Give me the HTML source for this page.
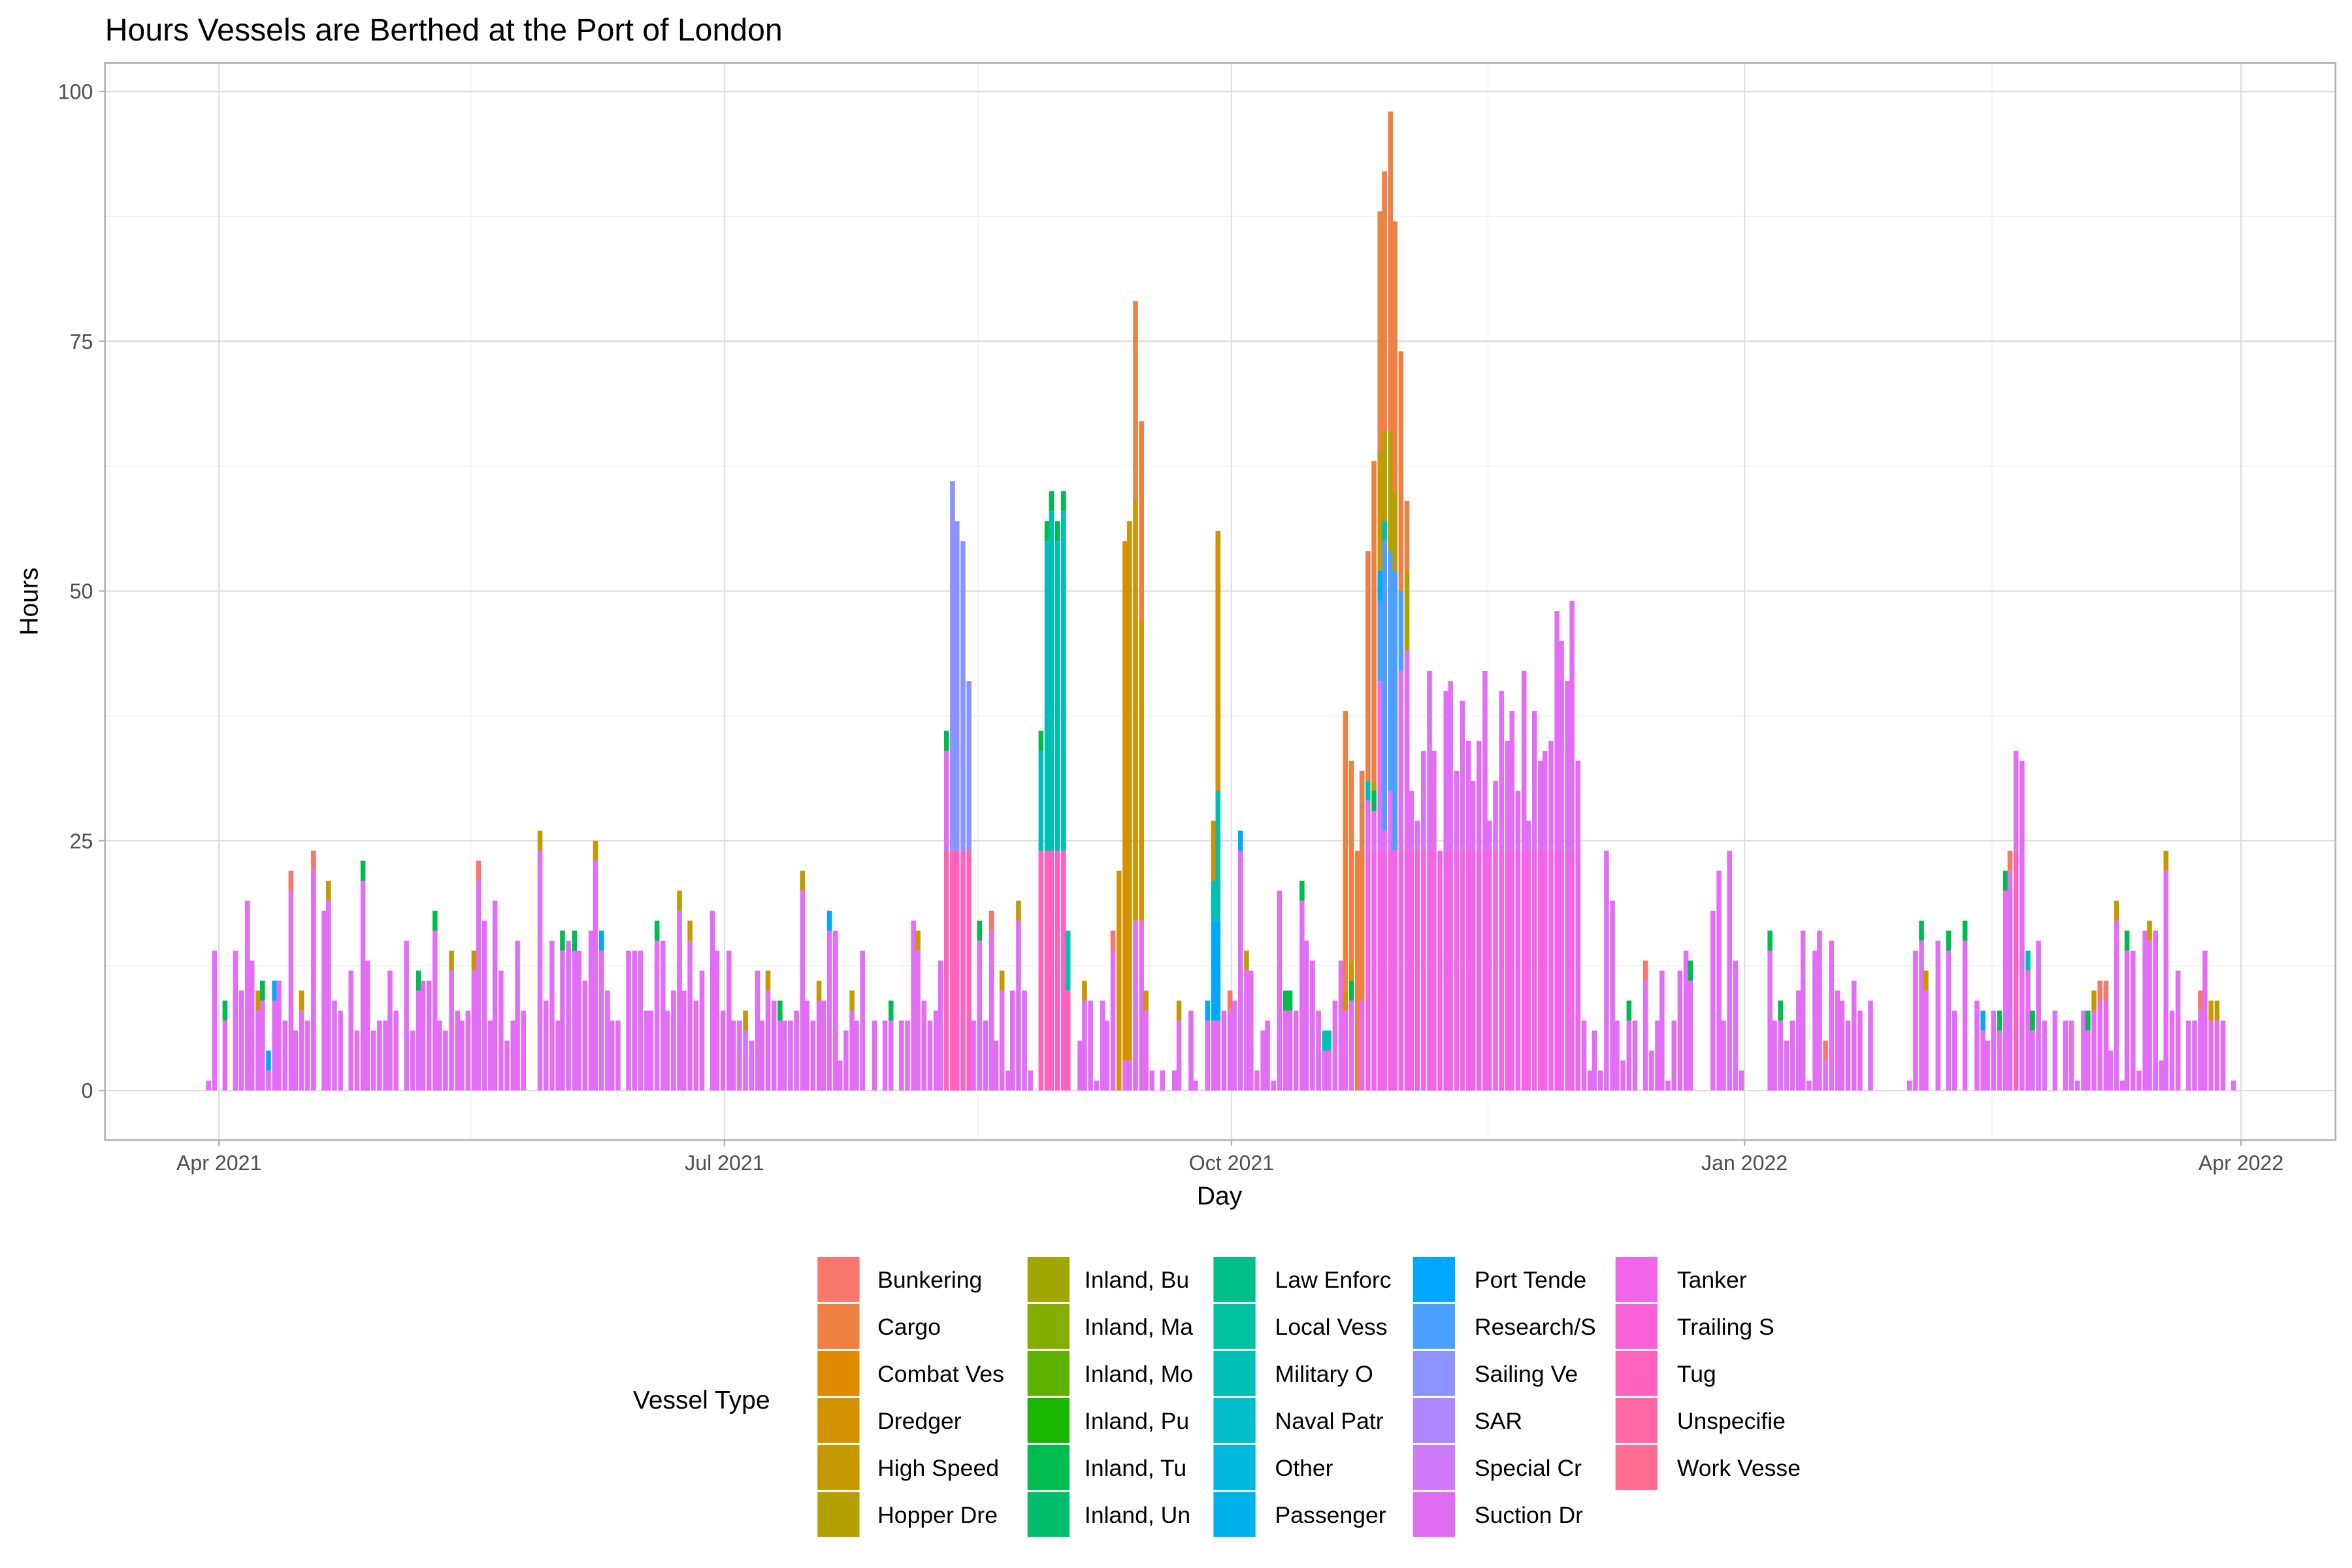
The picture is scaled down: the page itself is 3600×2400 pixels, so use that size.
<!DOCTYPE html>
<html><head><meta charset="utf-8"><style>
html,body{margin:0;padding:0;background:#fff}
svg{display:block}
text{font-family:"Liberation Sans",sans-serif}
</style></head><body>
<svg id="s" width="3600" height="2400" viewBox="0 0 1568 1045.33" preserveAspectRatio="none" xmlns="http://www.w3.org/2000/svg">
<rect x="0" y="0" width="1568" height="1046" fill="#fff"/>
<text x="70" y="27" font-size="21" fill="#000">Hours Vessels are Berthed at the Port of London</text>
<g id="grid"></g>
<g id="bars"></g>
<rect x="70" y="42" width="1487" height="718" fill="none" stroke="#b3b3b3" stroke-width="1.2"/>
<g id="axes" font-size="14" fill="#4d4d4d"></g>
<text x="813" y="803" font-size="17" text-anchor="middle" fill="#000">Day</text>
<text transform="translate(25,401) rotate(-90)" font-size="17" text-anchor="middle" fill="#000">Hours</text>
<g id="leg"></g>
</svg>
<script>
var NS="http://www.w3.org/2000/svg";
function el(p,t,a,txt){var e=document.createElementNS(NS,t);for(var k in a)e.setAttribute(k,a[k]);if(txt!=null)e.textContent=txt;document.getElementById(p).appendChild(e);return e;}
var Y0=727,U=6.66;
function yv(v){return Y0-v*U;}
[12.5,37.5,62.5,87.5].forEach(function(v){el('grid','line',{x1:70,x2:1557,y1:yv(v),y2:yv(v),stroke:'#f0f0f0','stroke-width':0.6});});
[314,652,992,1328].forEach(function(x){el('grid','line',{x1:x,x2:x,y1:42,y2:760,stroke:'#f0f0f0','stroke-width':0.6});});
[0,25,50,75,100].forEach(function(v){el('grid','line',{x1:70,x2:1557,y1:yv(v),y2:yv(v),stroke:'#dedede','stroke-width':1});
 el('axes','line',{x1:66,x2:70,y1:yv(v),y2:yv(v),stroke:'#b3b3b3','stroke-width':1});
 el('axes','text',{x:62,y:yv(v)+5,'text-anchor':'end'},String(v));});
var xt=[[146,'Apr 2021'],[483,'Jul 2021'],[821,'Oct 2021'],[1163,'Jan 2022'],[1494,'Apr 2022']];
xt.forEach(function(t){el('grid','line',{x1:t[0],x2:t[0],y1:42,y2:760,stroke:'#dedede','stroke-width':1});
 el('axes','line',{x1:t[0],x2:t[0],y1:760,y2:764,stroke:'#b3b3b3','stroke-width':1});
 el('axes','text',{x:t[0],y:780,'text-anchor':'middle'},t[1]);});
var S='#E36EF6',K='#F166E8',C='#EE8044',H='#B4A000',Yh='#C49A00',D='#D39200',R='#4A9FFF',SV='#8B93FF',TE='#00C0B6',G='#00BB4E',P='#00A9FF',TG='#FF62BC',B='#F8766D',GM='#5EB300';
var d="139:1,143:14,150:9g,157:14,161:10,165:19,168:13,172:10y,175:11g,179:4p,183:11p,186:11,190:7,194:22r,197:6,201:10y,205:7,209:24r,216:18,219:21y,223:9,227:8,234:12,238:6,242:23g,245:13,249:6,253:7,257:7,260:12,264:8,271:15,275:6,279:12g,282:11,286:11,290:18g,293:7,297:6,301:14y,305:8,308:7,312:8,316:14y,319:23r,323:17,327:7,330:19,334:12,338:5,342:7,345:15,349:8,360:26y,364:9,368:15,372:7,375:16g,379:15,383:16g,386:14,390:11,394:16,397:25y,401:16p,405:10,408:7,412:7,419:14,423:14,427:14,431:8,434:8,438:17g,442:15,445:8,449:10,453:20y,456:10,460:17y,464:9,468:12,475:18,478:14,482:8,486:14,489:7,493:7,497:8y,501:5,505:12,508:7,512:12y,516:9,520:9g,523:7,527:7,531:8,535:22y,538:9,542:7,546:11y,549:9,553:18p,557:16,560:3,564:6,568:10y,571:7,575:14,583:7,590:7,594:9g,601:7,605:7,609:17,612:16y,616:9,620:7,624:8,627:13,631:36A,635:61V,638:57V,642:55V,646:41V,649:7,653:17g,657:7,661:18r,664:5,668:12y,672:2,675:10,679:19y,683:10,687:2,694:36T,698:57T,701:60T,705:57T,709:60T,712:16T,720:5,723:11y,727:9,731:1y,735:9,738:7,742:16r,746:22D,750:55D,753:57D,757:79X,761:67X,764:10y,768:2,775:2y,783:2y,786:9y,794:8,797:1,805:9P,809:27Q,812:56Q,816:8,820:10r,823:9,827:26p,831:14y,834:12,838:2g,842:6,845:7,849:1y,853:20,857:10g,860:10g,864:8,868:21g,871:15,875:13,879:8,883:6t,886:6t,890:9,894:13";
var d2="941:30,945:27,949:34,953:42,956:34,960:24,964:40,967:41,971:32,975:39,979:35,982:31,986:35,990:42,993:27,997:31,1001:40,1005:35,1008:38,1012:30,1016:42,1019:27,1023:38,1027:33,1030:34,1034:35,1038:48,1041:45,1045:41,1048:49,1052:33,1056:7,1060:2g,1063:6,1067:2p,1071:24,1075:19,1078:7,1082:3y,1086:9g,1090:7,1097:13r,1101:4,1105:7,1108:12,1112:1y,1116:7,1120:12,1124:14,1127:13g,1142:18,1146:22,1149:7,1153:24,1157:13,1161:2p,1180:16g,1183:7,1187:9g,1191:5,1195:7,1199:10,1202:16,1206:1,1210:14,1213:16,1217:5r,1221:15,1225:10,1228:9,1232:7,1236:11,1240:8,1247:9,1273:1,1277:14,1281:17g,1284:12y,1292:15,1299:16g,1303:8,1310:17g,1318:9,1322:8p,1325:5,1329:8,1333:8g,1337:22g,1340:24r,1344:34R,1348:33,1352:14t,1355:8g,1359:15,1363:7,1370:8,1377:7,1381:7,1385:1,1389:8,1392:8g,1396:10y,1400:11r,1404:11r,1407:4,1411:19y,1415:1,1418:16g,1422:14,1426:2,1430:16,1433:17y,1437:16,1441:3y,1444:24y,1448:8,1452:12,1459:7,1463:7,1467:10r,1470:14,1474:9y,1478:9y,1482:7,1489:1t";
var peaks={897:[[S,8],[D,2],[C,28]],901:[[S,9],[G,2],[Yh,2],[C,20]],905:[[C,24]],908:[[S,9],[C,23]],912:[[K,24],[S,5],[TE,2],[C,23]],916:[[K,24],[S,4],[G,2],[Yh,1],[C,32]],920:[[K,24],[S,17],[R,8],[P,3],[Yh,12],[C,24]],923:[[K,24],[S,2],[R,29],[TE,2],[H,9],[C,26]],927:[[K,24],[S,6],[R,24],[H,12],[C,32]],930:[[K,24],[R,28],[H,8],[C,27]],934:[[K,24],[S,18],[R,8],[C,24]],938:[[K,24],[S,20],[H,8],[C,7]]};
var caps={g:G,y:Yh,r:B,p:P,t:TE};
var bw=3.3;
function draw(x,segs){var y=Y0;segs.forEach(function(s){var h=s[1]*U;y-=h;el('bars','rect',{x:x-bw/2,y:y,width:bw,height:h,fill:s[0]});});}
function parse(str){str.split(',').forEach(function(it){var m=it.match(/(\d+):(\d+)([A-Za-z]?)/);var x=+m[1],h=+m[2],t=m[3],segs;
 if(t=='A')segs=[[TG,24],[S,10],[G,2]];
 else if(t=='V')segs=[[TG,24],[SV,h-24]];
 else if(t=='T')segs=h>24?[[TG,24],[TE,h-26],[G,2]]:[[TG,10],[TE,h-10]];
 else if(t=='D')segs=h>24?[[S,3],[D,h-3]]:[[D,h]];
 else if(t=='X')segs=[[S,17],[D,h-17-20],[C,20]];
 else if(t=='P')segs=[[S,7],[P,2]];
 else if(t=='Q')segs=[[S,7],[P,10],[TE,h>40?13:4],[D,h>40?26:6]];
 else if(t=='R')segs=[[TG,24],[S,h-24]];
 else {var base=(x>=940&&x<=1052)?[[K,Math.min(h,24)]].concat(h>24?[[S,h-24-(t?2:0)]]:[]):[[S,h-(t&&h>3?2:0)]];
   segs=base; if(t&&caps[t])segs.push([caps[t],h>3?2:0]);}
 draw(x,segs);});}
parse(d);
for(var k in peaks)draw(+k,peaks[k]);
parse(d2);
el('leg','text',{x:422,y:939,'font-size':17,fill:'#000'},'Vessel Type');
var cols=[[545,585,[['Bunkering','#F8766D'],['Cargo','#EE8044'],['Combat Ves','#E18A00'],['Dredger','#D39200'],['High Speed','#C49A00'],['Hopper Dre','#B4A000']]],
[685,723,[['Inland, Bu','#9FA700'],['Inland, Ma','#85AD00'],['Inland, Mo','#5EB300'],['Inland, Pu','#19B700'],['Inland, Tu','#00BB4E'],['Inland, Un','#00BE6C']]],
[809,850,[['Law Enforc','#00C087'],['Local Vess','#00C1A0'],['Military O','#00C0B6'],['Naval Patr','#00BDCA'],['Other','#00B8DC'],['Passenger','#00B2EB']]],
[942,983,[['Port Tende','#00A9FF'],['Research/S','#4A9FFF'],['Sailing Ve','#8B93FF'],['SAR','#AE87FF'],['Special Cr','#CC7AF8'],['Suction Dr','#E06CF2']]],
[1077,1118,[['Tanker','#F166E8'],['Trailing S','#FB61D7'],['Tug','#FF62BC'],['Unspecifie','#FF67A4'],['Work Vesse','#FF6C91']]]];
cols.forEach(function(c){c[2].forEach(function(it,i){var y=838+i*31.35;
 el('leg','rect',{x:c[0],y:y,width:28,height:30,fill:it[1]});
 el('leg','text',{x:c[1],y:y+20.5,'font-size':15.5,fill:'#000'},it[0]);});});
</script>
</body></html>
